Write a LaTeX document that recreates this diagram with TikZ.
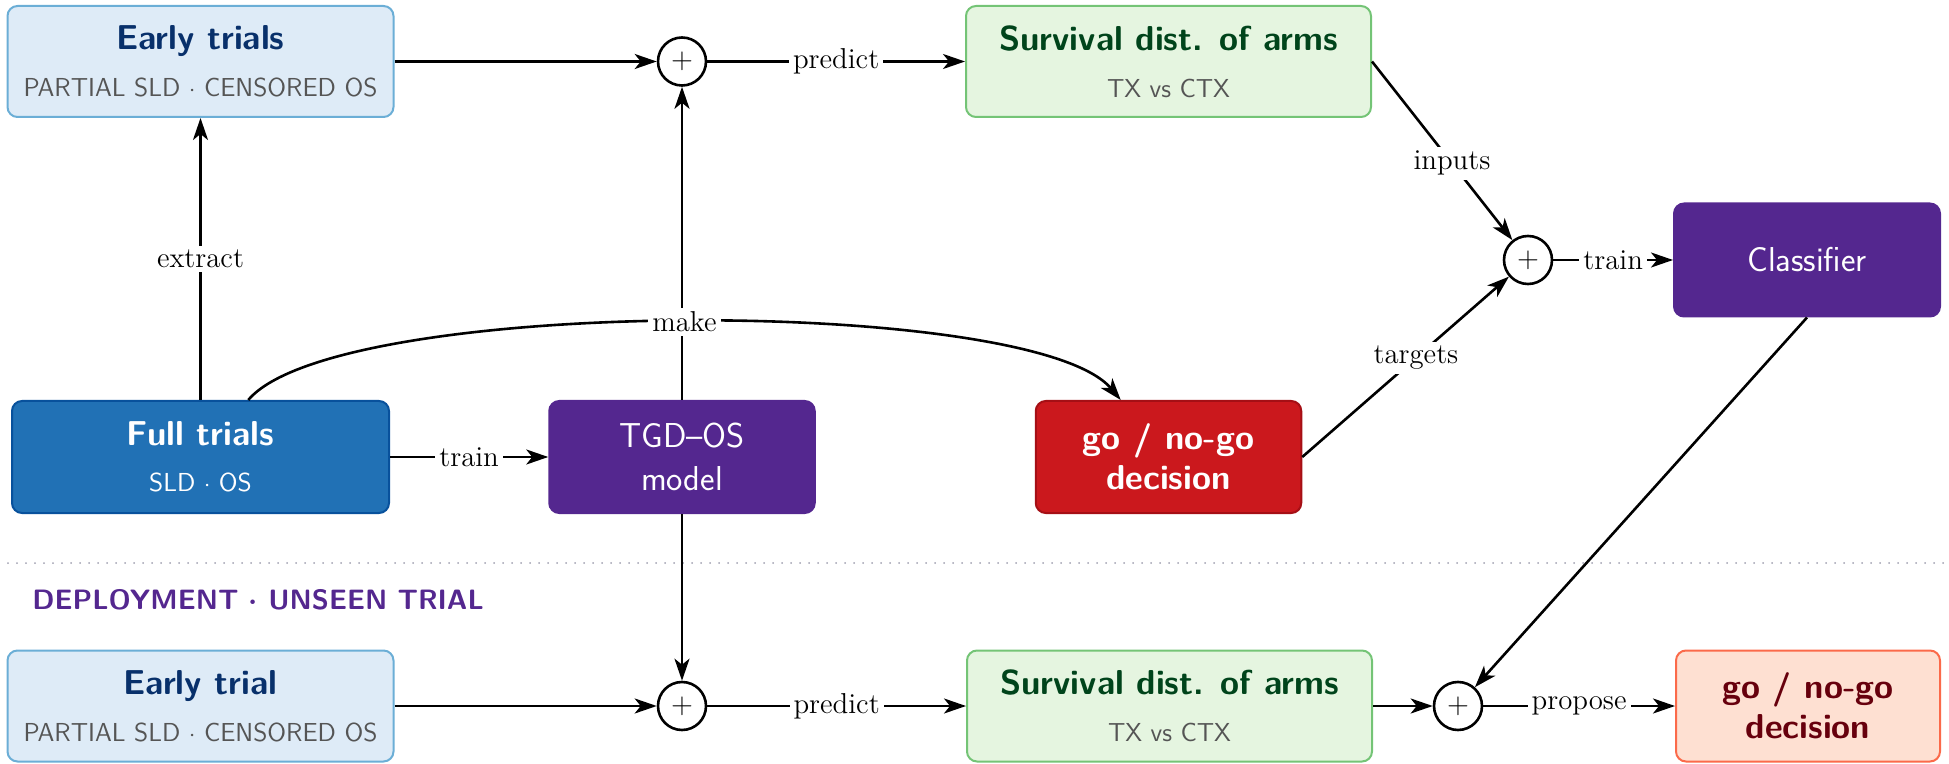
\documentclass[tikz,border=0pt]{standalone}
\usepackage{fontspec}
\usetikzlibrary{arrows.meta}
\definecolor{eFill}{HTML}{DEEBF7}
\definecolor{eLine}{HTML}{6BAED6}
\definecolor{eTitle}{HTML}{08306B}
\definecolor{sFill}{HTML}{E5F5E0}
\definecolor{sLine}{HTML}{74C476}
\definecolor{sTitle}{HTML}{00441B}
\definecolor{fFill}{HTML}{2171B5}
\definecolor{fLine}{HTML}{08519C}
\definecolor{pFill}{HTML}{54278F}
\definecolor{rFill}{HTML}{CB181D}
\definecolor{rLine}{HTML}{A50F15}
\definecolor{lFill}{HTML}{FEE0D2}
\definecolor{lLine}{HTML}{FB6A4A}
\definecolor{lTitle}{HTML}{67000D}
\definecolor{subGray}{HTML}{555555}
\definecolor{dotGray}{HTML}{A0A0B0}
\newcommand{\mysub}{\mdseries\fontsize{13}{13}\selectfont}
\newcommand{\mydot}{\ $\cdot$\ }
\begin{document}
\begin{tikzpicture}[x=0.5pt,y=-0.5pt,
  every node/.style={font=\sffamily\fontsize{17.28}{17.28}\selectfont},
  box/.style={rounded corners=5pt, line width=1pt, align=center, inner sep=0pt, minimum height=55.5pt},
  sumnode/.style={circle, draw, line width=1.3pt, minimum size=24pt, inner sep=0pt, fill=white, font=\fontsize{14.4}{14.4}\selectfont},
  lab/.style={fill=white, inner sep=2pt, font=\rmfamily\fontsize{14.4}{14.4}\selectfont},
  conn/.style={line width=1.3pt, -{Stealth[length=11pt,width=7.5pt,inset=3pt]}},
]
\useasboundingbox (0,0) rectangle (1949,764);

% top row
\node[box, fill=eFill, draw=eLine, text=eTitle, minimum width=193pt] (early) at (200.5,61.5)
  {{\bfseries Early trials}\\[6pt]{\mysub\color{subGray}PARTIAL SLD\mydot CENSORED OS}};
\node[sumnode] (sum1) at (682,61.5) {$+$};
\node[box, fill=sFill, draw=sLine, text=sTitle, minimum width=202.5pt] (surv1) at (1168.5,61.5)
  {{\bfseries Survival dist. of arms}\\[6pt]{\mysub\color{subGray}TX vs CTX}};
\node[sumnode] (sum2) at (1528,260) {$+$};
\node[box, fill=pFill, draw=pFill, text=white, minimum width=133pt, minimum height=56.5pt] (clf) at (1807,260) {Classifier};

% middle row
\node[box, fill=fFill, draw=fLine, text=white, minimum width=188.5pt, minimum height=56pt] (full) at (200.5,457)
  {{\bfseries Full trials}\\[6pt]{\mysub SLD\mydot OS}};
\node[box, fill=pFill, draw=pFill, text=white, minimum width=132.75pt, minimum height=56pt] (tgd) at (682,457)
  {TGD–OS\\[4.2pt]model};
\node[box, fill=rFill, draw=rLine, text=white, minimum width=132.75pt, minimum height=56pt] (red) at (1168.5,457)
  {\bfseries go / no-go\\[2.7pt]\bfseries decision};

% separator
\coordinate (dl) at (8,563);
\coordinate (dr) at (1945,563);
\draw[dotGray, line width=1pt, line cap=round, dash pattern=on 0pt off 4.5pt] (dl) -- (dr);
\node[anchor=base west, text=pFill, inner sep=0pt, font=\sffamily\bfseries\boldmath\fontsize{14}{14}\selectfont] (dep) at (32,609)
  {DEPLOYMENT\mydot UNSEEN TRIAL};

% bottom row
\node[box, fill=eFill, draw=eLine, text=eTitle, minimum width=193pt] (early2) at (200.5,706)
  {{\bfseries Early trial}\\[6pt]{\mysub\color{subGray}PARTIAL SLD\mydot CENSORED OS}};
\node[sumnode] (sum3) at (682,706) {$+$};
\node[box, fill=sFill, draw=sLine, text=sTitle, minimum width=202.5pt] (surv2) at (1169.5,706)
  {{\bfseries Survival dist. of arms}\\[6pt]{\mysub\color{subGray}TX vs CTX}};
\node[sumnode] (sum4) at (1458,706) {$+$};
\node[box, fill=lFill, draw=lLine, text=lTitle, minimum width=132pt, minimum height=55.5pt] (go2) at (1808,706)
  {\bfseries go / no-go\\[2.7pt]\bfseries decision};

% connectors
\draw[conn] (early.east) -- (sum1);
\draw[conn] (sum1) -- node[lab]{predict} (surv1);
\draw[conn] (full) -- node[lab]{train} (tgd);
\draw[conn] (full) -- node[lab]{extract} (early);
\draw[conn] (tgd) -- (sum1);
\draw[conn] (full) to[out=50,in=130,looseness=0.4] node[lab]{make} (red);
\draw[conn] (surv1.east) -- node[lab,pos=0.57]{inputs} (sum2);
\draw[conn] (red.east) -- node[lab,pos=0.55]{targets} (sum2);
\draw[conn] (sum2) -- node[lab]{train} (clf);
\draw[conn] (clf.south) -- (sum4);
\draw[conn] (tgd) -- (sum3);
\draw[conn] (early2) -- (sum3);
\draw[conn] (sum3) -- node[lab]{predict} (surv2);
\draw[conn] (surv2) -- (sum4);
\draw[conn] (sum4) -- node[lab]{propose} (go2);
\end{tikzpicture}
\end{document}
